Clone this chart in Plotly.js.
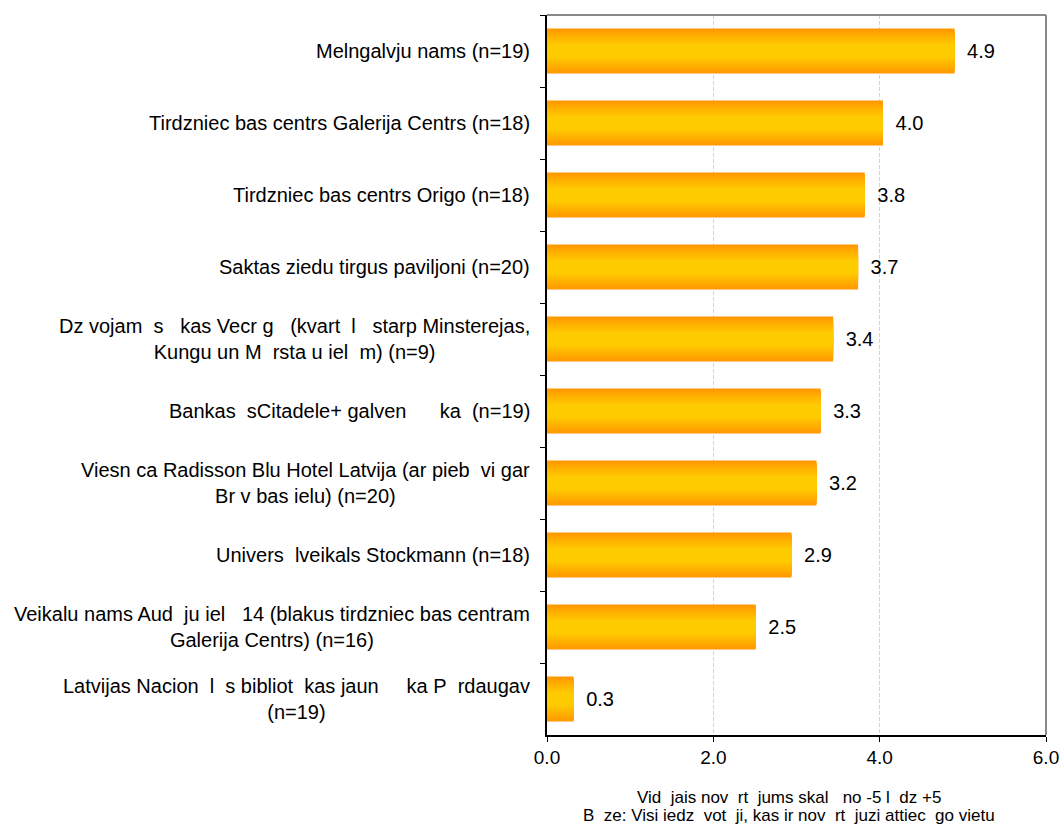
<!DOCTYPE html>
<html>
<head>
<meta charset="utf-8">
<script src="https://cdn.plot.ly/plotly-3.0.1.min.js"></script>
<style>html,body{margin:0;padding:0;background:#fff;}#chart{width:1063px;height:827px;}</style>
</head>
<body>
<div id="chart"></div>
<script>
const categories = [
  "Melngalvju nams (n=19)",
  "Tirdzniec bas centrs Galerija Centrs (n=18)",
  "Tirdzniec bas centrs Origo (n=18)",
  "Saktas ziedu tirgus paviljoni (n=20)",
  "Dz vojam  s   kas Vecr g   (kvart  l   starp Minsterejas,<br>Kungu un M  rsta u iel  m) (n=9)",
  "Bankas  sCitadele+ galven      ka  (n=19)",
  "Viesn ca Radisson Blu Hotel Latvija (ar pieb  vi gar<br>Br v bas ielu) (n=20)",
  "Univers  lveikals Stockmann (n=18)",
  "Veikalu nams Aud  ju iel   14 (blakus tirdzniec bas centram<br>Galerija Centrs) (n=16)",
  "Latvijas Nacion  l  s bibliot  kas jaun     ka P  rdaugav<br>(n=19)"
];
const values = [4.9, 4.04, 3.82, 3.74, 3.44, 3.29, 3.24, 2.94, 2.51, 0.32];
const xTickVals = [0, 2, 4, 6];
const xTickText = ["0.0", "2.0", "4.0", "6.0"];
const axisTitleLines = [
  "Vid  jais nov  rt  jums skal   no -5 l  dz +5",
  "B  ze: Visi iedz  vot  ji, kas ir nov  rt  juzi attiec  go vietu"
];

const keepSpaces = s => s.replace(/ {2,}/g, m => "\u00a0".repeat(m.length));
const FONT = "Liberation Sans, Arial, sans-serif";

// gradient emulation: stacked overlaid bars, orange edges -> yellow centre
const orange = [255, 153, 0], yellow = [255, 204, 0];
const layers = 16, fullWidth = 0.625;
const traces = [];
for (let i = 0; i < layers; i++) {
  const t = Math.min(1, i / (layers * 0.72));
  const c = orange.map((o, k) => Math.round(o + (yellow[k] - o) * t));
  const tr = {
    type: 'bar', orientation: 'h',
    x: values, y: categories,
    width: fullWidth * (1 - i / layers),
    marker: {color: `rgb(${c[0]},${c[1]},${c[2]})`, line: {width: 0}},
    hoverinfo: 'skip', showlegend: false
  };
  if (i === 0) {
    tr.texttemplate = "\u00a0\u2009%{x:.1f}";
    tr.textposition = 'outside';
    tr.textfont = {family: FONT, size: 20, color: '#000'};
    tr.cliponaxis = false;
  }
  traces.push(tr);
}

const annotations = categories.map(c => ({
  xref: 'paper', yref: 'y', x: 0, y: c,
  xanchor: 'right', yanchor: 'middle', xshift: -15,
  text: keepSpaces(c), align: 'center', showarrow: false,
  font: {family: FONT, size: 20, color: '#000'}
}));
axisTitleLines.forEach((line, i) => annotations.push({
  xref: 'paper', yref: 'paper', x: 0.5, y: 0,
  xanchor: 'center', yanchor: 'middle', xshift: -8, yshift: -62 - 18 * i,
  text: keepSpaces(line), showarrow: false,
  font: {family: FONT, size: 17, color: '#000'}
}));

const layout = {
  width: 1063, height: 827,
  margin: {l: 547, r: 17, t: 15, b: 92},
  paper_bgcolor: '#fff', plot_bgcolor: '#fff',
  barmode: 'overlay',
  font: {family: FONT, size: 19, color: '#000'},
  xaxis: {
    range: [0, 6], tickvals: xTickVals, ticktext: xTickText,
    ticks: 'outside', ticklen: 5, tickcolor: '#000',
    showline: true, linecolor: '#000', linewidth: 1.5,
    showgrid: true, gridcolor: '#d4d4d4', griddash: '4px,2px', gridwidth: 1,
    zeroline: false,
    tickfont: {family: FONT, size: 19}
  },
  yaxis: {
    type: 'category', categoryorder: 'array', categoryarray: categories,
    autorange: 'reversed', tickson: 'boundaries',
    ticks: 'outside', ticklen: 5, tickcolor: '#000',
    showticklabels: false,
    showline: true, linecolor: '#000', linewidth: 2,
    showgrid: false, zeroline: false
  },
  shapes: [
    {type: 'line', xref: 'paper', yref: 'paper', x0: 0, x1: 1, y0: 1, y1: 1, line: {color: '#888', width: 2}},
    {type: 'line', xref: 'paper', yref: 'paper', x0: 1, x1: 1, y0: 0, y1: 1, line: {color: '#888', width: 2}}
  ],
  annotations: annotations
};

Plotly.newPlot('chart', traces, layout, {displayModeBar: false, staticPlot: true});
</script>
</body>
</html>
